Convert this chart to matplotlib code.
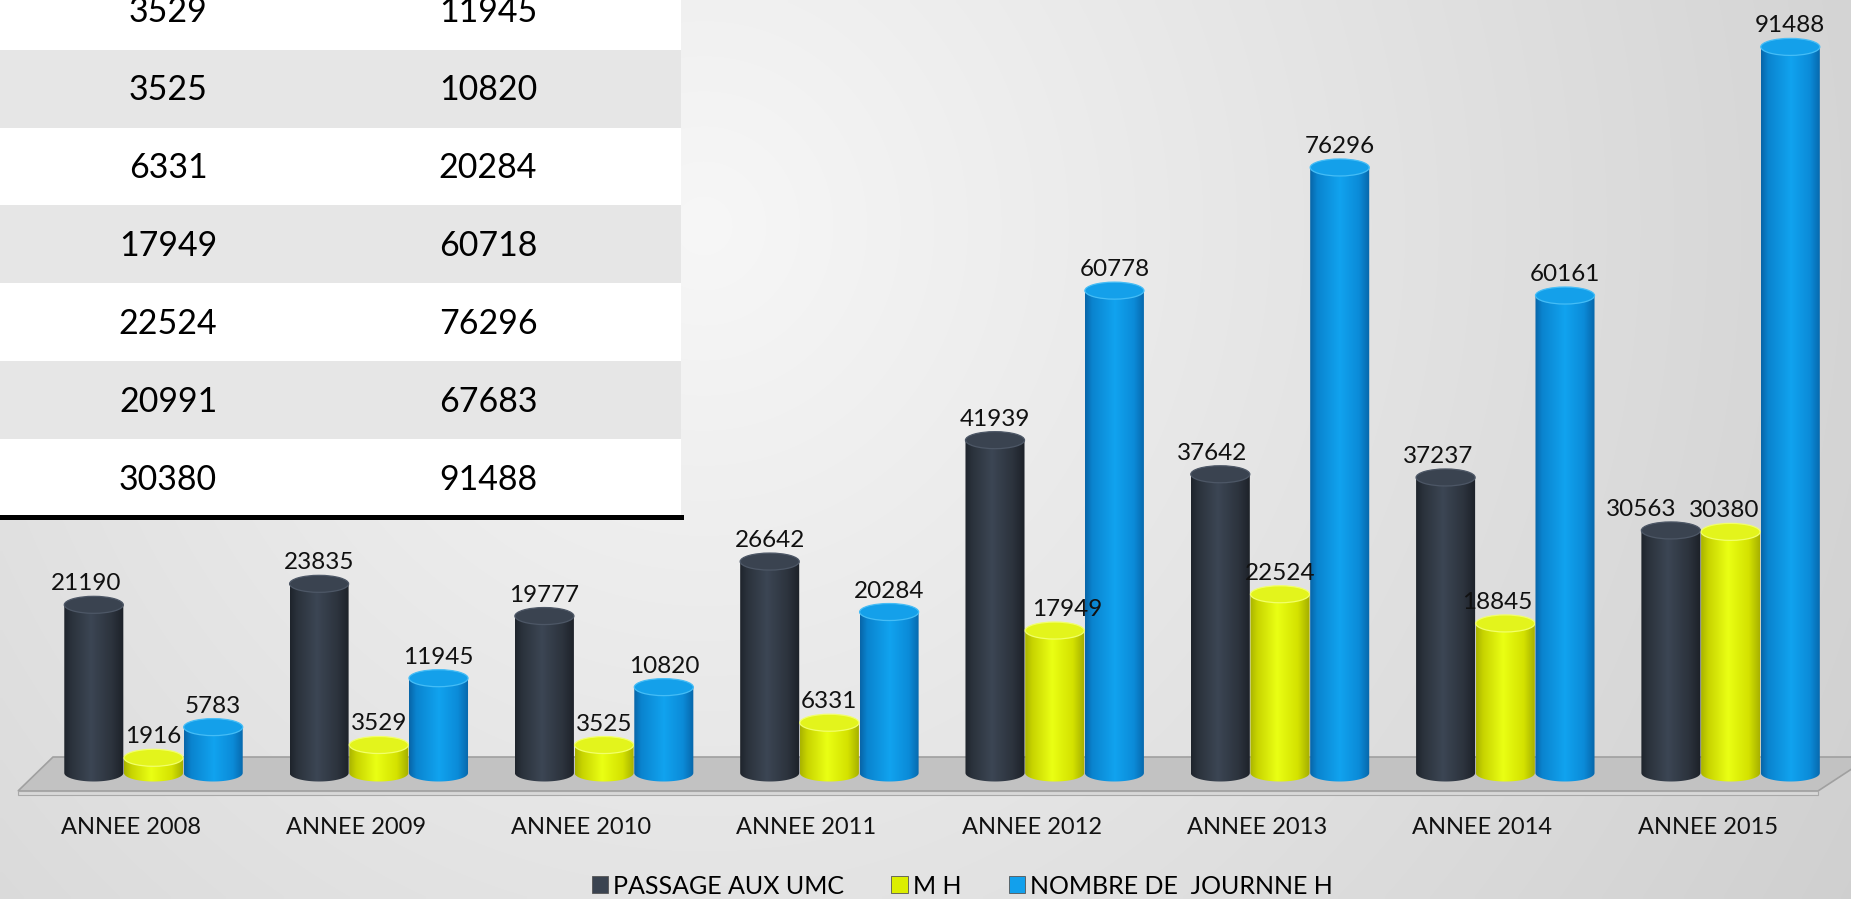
import numpy as np
import matplotlib
matplotlib.use('Agg')
import matplotlib.pyplot as plt
from matplotlib import font_manager
from matplotlib.colors import LinearSegmentedColormap
from matplotlib.path import Path
from matplotlib.patches import PathPatch, Ellipse, Polygon, Patch

# chart data
years = ['ANNEE 2008', 'ANNEE 2009', 'ANNEE 2010', 'ANNEE 2011',
         'ANNEE 2012', 'ANNEE 2013', 'ANNEE 2014', 'ANNEE 2015']
passage_umc = [21190, 23835, 19777, 26642, 41939, 37642, 37237, 30563]
m_h = [1916, 3529, 3525, 6331, 17949, 22524, 18845, 30380]
journee_h = [5783, 11945, 10820, 20284, 60778, 76296, 60161, 91488]
series_names = ['PASSAGE AUX UMC', 'M H', 'NOMBRE DE  JOURNNE H']

# table pasted over the top left corner
table_m_h = [3529, 3525, 6331, 17949, 22524, 20991, 30380]
table_journee_h = [11945, 10820, 20284, 60718, 76296, 67683, 91488]

installed = {f.name for f in font_manager.fontManager.ttflist}
main_font = 'Lato' if 'Lato' in installed else 'DejaVu Sans'
plt.rcParams['font.family'] = [main_font, 'DejaVu Sans']

W, H = 1851, 899
fig = plt.figure(figsize=(W / 100, H / 100), dpi=100)

# soft grey background
bg = fig.add_axes([0, 0, 1, 1])
bg.set_axis_off()
yy, xx = np.mgrid[0:1:180j, 0:1:370j]
d = np.hypot((xx - 0.38) / 0.65, (yy - 0.25) / 1.4)
shade = 0.968 - 0.14 * np.clip(d, 0, 1.2)
bg.imshow(np.dstack([shade] * 3), extent=(0, 1, 0, 1), aspect='auto', interpolation='bilinear')

# main axes, mapped to figure pixels
ax = fig.add_axes([0, 0, 1, 1])
ax.set_axis_off()
ax.patch.set_alpha(0)
x0_px, pitch = 153.5, 225.3
base_px = 773
upx = 126.0  # value units per pixel
xlim = (-x0_px / pitch, (W - x0_px) / pitch)
ylim = (-(H - base_px) * upx, base_px * upx)


def vpx(px):
    return (base_px - px) * upx


def xpx(px):
    return (px - x0_px) / pitch


# floor
floor_top = Polygon([(xpx(18), vpx(791)), (xpx(53), vpx(757)), (xpx(1870), vpx(757)), (xpx(1818), vpx(791))],
                    closed=True, facecolor='#c2c2c2', edgecolor='#a0a0a0', lw=1.2, zorder=1)
floor_front = Polygon([(xpx(18), vpx(791)), (xpx(1818), vpx(791)), (xpx(1818), vpx(795)), (xpx(18), vpx(795))],
                      closed=True, facecolor='#d8d8d8', edgecolor='#a8a8a8', lw=0.8, zorder=1)
ax.add_patch(floor_top)
ax.add_patch(floor_front)

cmaps = [
    LinearSegmentedColormap.from_list('dark', [(0, '#1e242c'), (0.12, '#2b323c'), (0.45, '#3c4654'),
                                               (0.8, '#2c333d'), (1, '#1c2128')]),
    LinearSegmentedColormap.from_list('yel', [(0, '#a9b300'), (0.12, '#c8d400'), (0.45, '#eaff14'),
                                              (0.8, '#d4e200'), (1, '#a3ad00')]),
    LinearSegmentedColormap.from_list('blu', [(0, '#0865a8'), (0.12, '#0a84cf'), (0.5, '#11a3ef'),
                                              (0.82, '#0b8bd8'), (1, '#0766aa')]),
]
top_colors = ['#3a4350', '#e3f41c', '#14a0ea']
rim_colors = ['#4d5766', '#f2ff6a', '#45bdf6']
legend_colors = ['#3a4350', '#dcee00', '#12a0ec']

bar_w = 0.262
offsets = [-0.265, 0.0, 0.265]
ell_b = 8.5 * upx
grad = np.linspace(0, 1, 128).reshape(1, -1)


def cylinder(xc, h, s, z):
    x0, x1 = xc - bar_w / 2, xc + bar_w / 2
    t = np.linspace(np.pi, 2 * np.pi, 40)
    bx = xc + bar_w / 2 * np.cos(t)
    by = ell_b * np.sin(t)
    verts = [(x0, h)] + list(zip(bx, by)) + [(x1, h), (x0, h)]
    body = PathPatch(Path(np.array(verts), closed=True), facecolor='none', edgecolor='none', zorder=z)
    ax.add_patch(body)
    im = ax.imshow(grad, cmap=cmaps[s], extent=(x0, x1, -ell_b, h), aspect='auto',
                   interpolation='bilinear', zorder=z)
    im.set_clip_path(body)
    ax.add_patch(Ellipse((xc, h), bar_w, 2 * ell_b, facecolor=top_colors[s],
                         edgecolor=rim_colors[s], lw=0.9, zorder=z + 0.1))


label_nudge = {(0, 7): -30, (0, 0): -8, (0, 5): -8, (0, 6): -7, (1, 4): 12, (1, 6): -8, (1, 7): -6}

for s, vals in enumerate([passage_umc, m_h, journee_h]):
    for i, v in enumerate(vals):
        xc = i + offsets[s]
        cylinder(xc, v, s, 5 + s)
        ax.annotate(str(v), (xc, v), xytext=(label_nudge.get((s, i), 0), 21), textcoords='offset pixels',
                    ha='center', va='center', fontsize=17.5, color='#111111', zorder=50)

for i, name in enumerate(years):
    ax.annotate(name, (i, 0), xytext=(-23, -54), textcoords='offset pixels',
                ha='center', va='center', fontsize=17, color='#111111')

ax.set_xlim(*xlim)
ax.set_ylim(*ylim)

handles = [Patch(facecolor=c, edgecolor='#555555', lw=0.6) for c in legend_colors]
fig.legend(handles, series_names, loc='center', bbox_to_anchor=(962 / W, 1 - 886 / H), ncol=3,
           frameon=False, fontsize=18, handlelength=0.65, handleheight=0.65, handletextpad=0.2,
           columnspacing=1.9)

# table block
tab = fig.add_axes([0, 1 - 517 / H, 681 / W, (517 + 28.3) / H])
tab.set_xlim(0, 1)
tab.set_ylim(0, 7)
tab.set_axis_off()
for k in range(7):
    tab.axhspan(6 - k, 7 - k, color='#ffffff' if k % 2 == 0 else '#e6e6e6', lw=0)
    tab.text(168 / 681, 6.48 - k, str(table_m_h[k]), ha='center', va='center',
             fontsize=24.5, color='black')
    tab.text(488 / 681, 6.48 - k, str(table_journee_h[k]), ha='center', va='center',
             fontsize=24.5, color='black')
tab.axhline(0, color='black', lw=3.6, clip_on=False)

plt.savefig('out.png', dpi=100)
